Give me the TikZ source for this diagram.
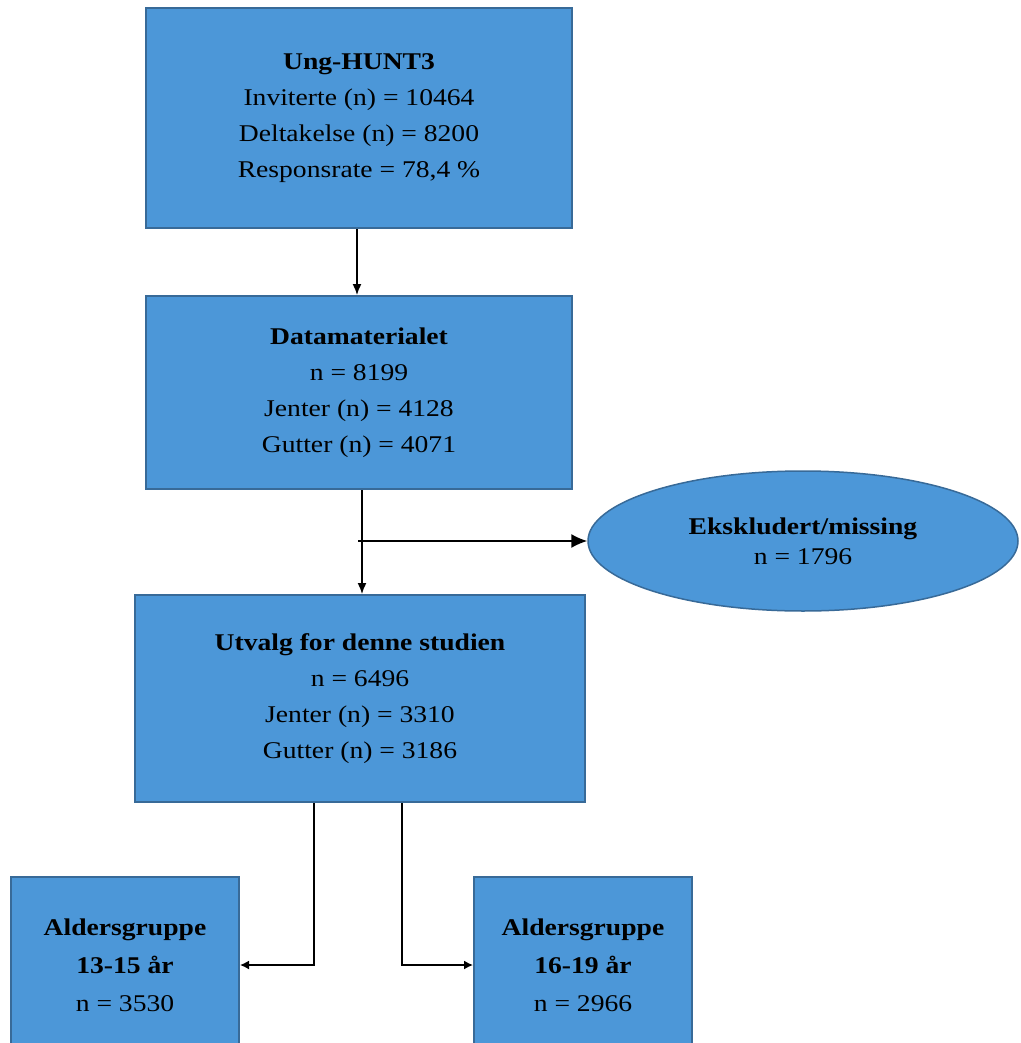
\documentclass[tikz,border=0pt]{standalone}
\usepackage{fontspec}
\setmainfont{Liberation Serif}[FakeStretch=1.15]
\usetikzlibrary{shapes.geometric,arrows.meta}
\definecolor{boxfill}{RGB}{76,151,216}
\definecolor{boxline}{RGB}{56,106,152}
\tikzset{
  box/.style={rectangle,draw=boxline,fill=boxfill,line width=2pt,align=center,
    font=\fontsize{24}{36}\selectfont,inner sep=0pt},
  oval/.style={ellipse,draw=boxline,fill=boxfill,line width=1.5pt,align=center,
    font=\fontsize{24}{30}\selectfont,inner sep=0pt},
  arr/.style={line width=1.5pt,-{Latex[length=11pt,width=9pt]}},
  bigarr/.style={line width=1.5pt,-{Latex[length=16pt,width=14pt]}},
  smallarr/.style={line width=1.5pt,-{Latex[length=9pt,width=9pt]}}
}
\begin{document}
\begin{tikzpicture}[x=1pt,y=-1pt]
\useasboundingbox (0,0) rectangle (1020,1043);
\begin{scope}
\clip (0,0) rectangle (1020,1043);
\node[box,minimum width=426pt,minimum height=220pt] (b1) at (359,118)
  {\textbf{Ung-HUNT3}\\Inviterte (n) = 10464\\Deltakelse (n) = 8200\\Responsrate = 78,4 \%};
\node[box,minimum width=426pt,minimum height=193pt] (b2) at (359,392.5)
  {\textbf{Datamaterialet}\\n = 8199\\Jenter (n) = 4128\\Gutter (n) = 4071};
\node[box,minimum width=450pt,minimum height=207pt] (b3) at (360,698.5)
  {\textbf{Utvalg for denne studien}\\n = 6496\\Jenter (n) = 3310\\Gutter (n) = 3186};
\node[oval,minimum width=430pt,minimum height=140pt] (ex) at (803,541)
  {\textbf{Ekskludert/missing}\\n = 1796};
\node[box,minimum width=228pt,minimum height=176pt,font=\fontsize{24}{38}\selectfont] (b4) at (125,965)
  {\textbf{Aldersgruppe}\\\textbf{13-15 år}\\n = 3530};
\node[box,minimum width=218pt,minimum height=176pt,font=\fontsize{24}{38}\selectfont] (b5) at (583,965)
  {\textbf{Aldersgruppe}\\\textbf{16-19 år}\\n = 2966};
\coordinate (j) at (358,541);
\draw[arr] ([xshift=-2pt]b1.south) -- ([xshift=-2pt]b1.south |- b2.north);
\draw[arr] ([xshift=3pt]b2.south) -- ([xshift=3pt]b2.south |- b3.north);
\draw[bigarr] (j) -- (ex.west);
\draw[smallarr] ([xshift=-46pt]b3.south) |- (b4.east);
\draw[smallarr] ([xshift=42pt]b3.south) |- (b5.west);
\end{scope}
\end{tikzpicture}
\end{document}
